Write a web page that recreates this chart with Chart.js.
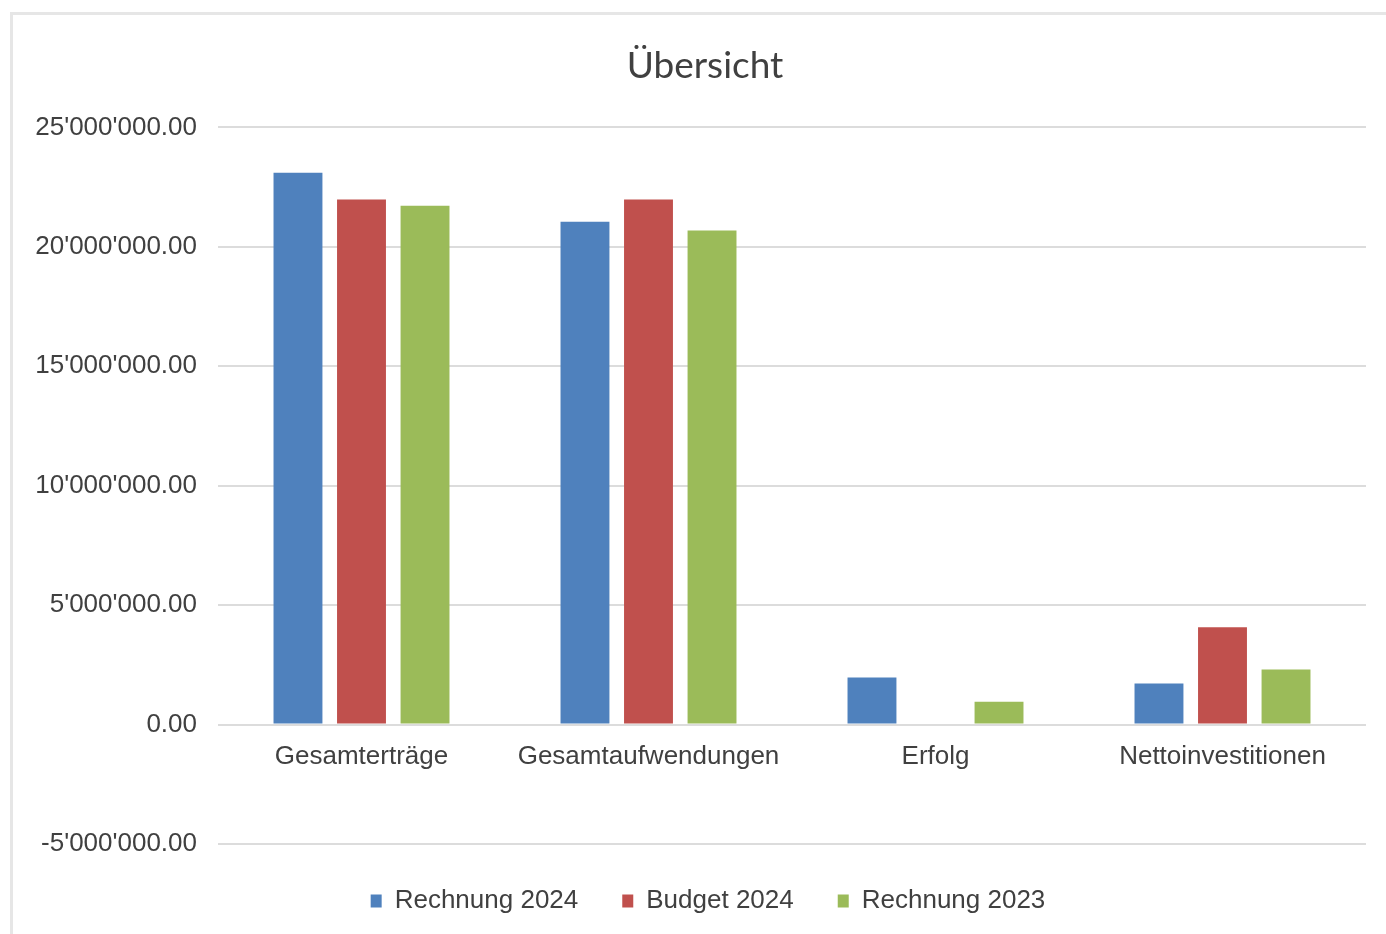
<!DOCTYPE html>
<html>
<head>
<meta charset="utf-8">
<script src="https://cdn.jsdelivr.net/npm/chart.js@4"></script>
<style>
  html, body { margin: 0; padding: 0; background: #fff; overflow: hidden; }
  #rahmen {
    position: absolute; left: 10px; top: 12px;
    width: 1390px; height: 940px;
    border: 3px solid #e6e6e6; box-sizing: border-box;
  }
  #grafik { position: absolute; left: 0; top: 0; }
</style>
</head>
<body>
<div id="rahmen"></div>
<canvas id="grafik" width="1386" height="934"></canvas>
<script>
// ================= DATEN =================
const kategorien = ["Gesamterträge", "Gesamtaufwendungen", "Erfolg", "Nettoinvestitionen"];
const rechnung2024 = [23100000, 21050000, 1970000, 1720000];
const budget2024 = [21980000, 21980000, 0, 4070000];
const rechnung2023 = [21720000, 20680000, 960000, 2310000];

const yMin = -5000000;
const yMax = 25000000;
const ySchritt = 5000000;

// Zahlen im Schweizer Format: 25'000'000.00
function chf(wert) {
  const negativ = wert < 0;
  const teile = Math.abs(wert).toFixed(2).split(".");
  const ganz = teile[0].replace(/\B(?=(\d{3})+(?!\d))/g, "'");
  return (negativ ? "-" : "") + ganz + "." + teile[1];
}

const schrift = "'Liberation Sans', Arial, sans-serif";
const textFarbe = "#404040";

// Titel und Legende wie in Excel über die ganze Fläche zentrieren
const zentrieren = {
  id: "zentrieren",
  afterLayout(chart) {
    if (chart.titleBlock) chart.titleBlock.left = 44;
    if (chart.legend) chart.legend.left = 50;
  }
};

// ================= GRAFIK =================
let ctx = document.getElementById("grafik");

let chart = new Chart(ctx, {
  type: "bar",
  data: {
    labels: kategorien,
    datasets: [
      { label: "Rechnung 2024", data: rechnung2024, backgroundColor: "#4f81bd" },
      { label: "Budget 2024", data: budget2024, backgroundColor: "#c0504d" },
      { label: "Rechnung 2023", data: rechnung2023, backgroundColor: "#9bbb59" }
    ]
  },
  plugins: [zentrieren],
  options: {
    responsive: false,
    animation: false,
    categoryPercentage: 0.664,
    barPercentage: 0.77,
    layout: {
      padding: { left: 10, right: 20, top: 12, bottom: 10 }
    },
    plugins: {
      title: {
        display: true,
        text: "Übersicht",
        color: textFarbe,
        font: { family: "Lato, 'Open Sans', sans-serif", size: 37, weight: "normal", lineHeight: 1.2 },
        padding: { top: 32, bottom: 39 }
      },
      legend: {
        position: "bottom",
        labels: {
          color: textFarbe,
          font: { family: schrift, size: 26 },
          boxWidth: 11,
          boxHeight: 13,
          padding: 44
        }
      },
      tooltip: { enabled: false }
    },
    scales: {
      x: {
        position: { y: 0 },
        grid: { display: false, drawTicks: false },
        border: { display: false },
        ticks: {
          color: textFarbe,
          font: { family: schrift, size: 26 },
          padding: 17,
          maxRotation: 0
        }
      },
      y: {
        min: yMin,
        max: yMax,
        afterFit: (skala) => { skala.width = 208; },
        grid: { color: "#dcdcdc", lineWidth: 2, drawTicks: false },
        border: { display: false },
        ticks: {
          stepSize: ySchritt,
          color: textFarbe,
          font: { family: schrift, size: 26 },
          padding: 21,
          callback: (wert) => chf(wert)
        }
      }
    }
  }
});
</script>
</body>
</html>
